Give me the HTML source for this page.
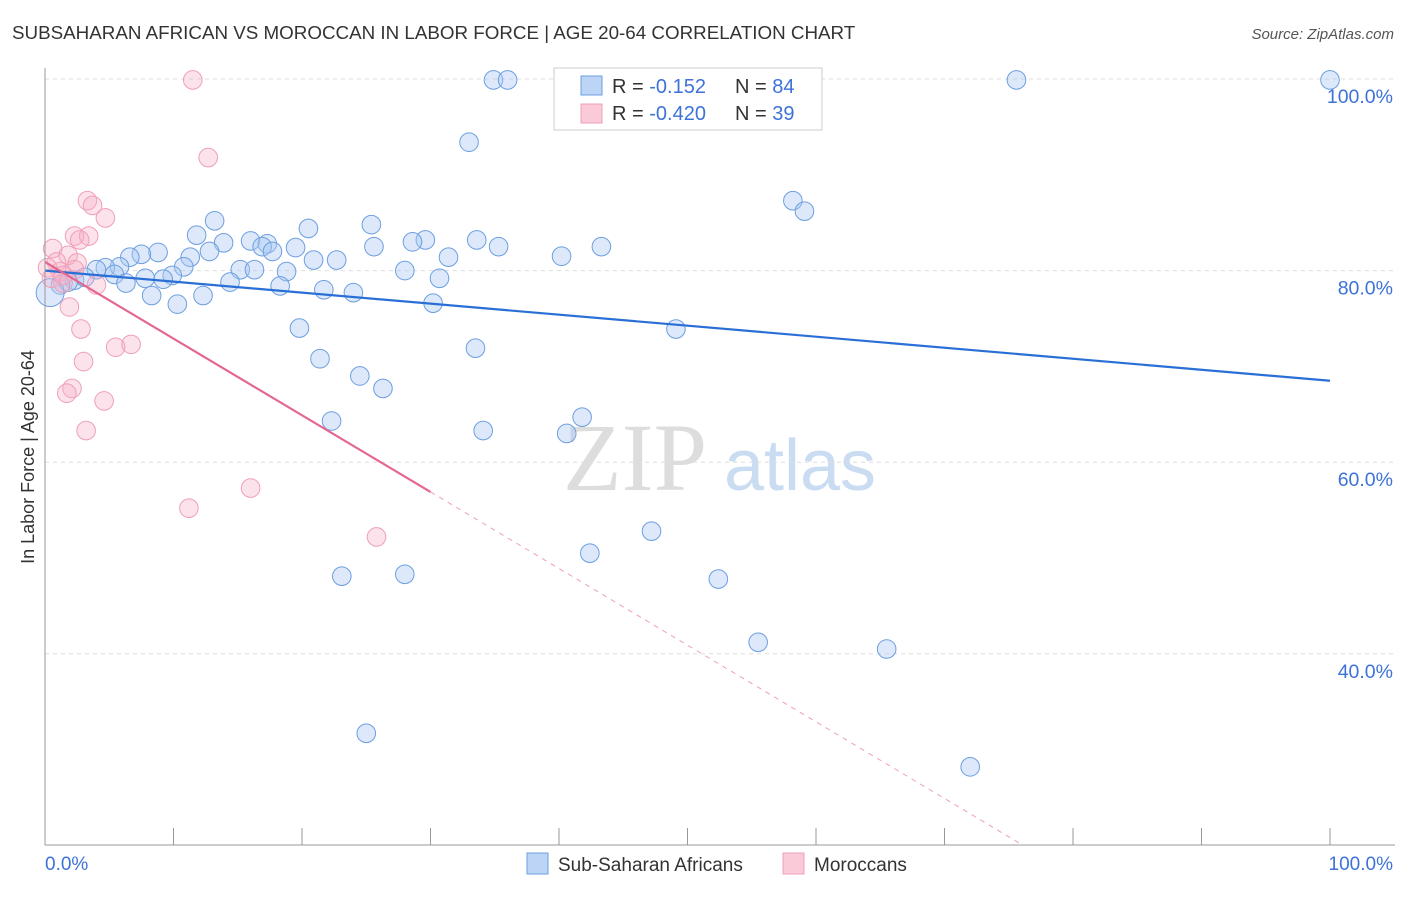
<!DOCTYPE html>
<html><head><meta charset="utf-8"><style>
body{margin:0;background:#fff;font-family:"Liberation Sans",sans-serif}
</style></head><body>
<svg id="c" width="1406" height="892" xmlns="http://www.w3.org/2000/svg">
<text x="12" y="39" font-size="18.8" fill="#333">SUBSAHARAN AFRICAN VS MOROCCAN IN LABOR FORCE | AGE 20-64 CORRELATION CHART</text>
<text x="1394" y="39" font-size="15" fill="#555" text-anchor="end" font-style="italic">Source: ZipAtlas.com</text>
<text x="34" y="457" font-size="18" fill="#333" text-anchor="middle" transform="rotate(-90 34 457)">In Labor Force | Age 20-64</text>
<g><text x="635" y="490" font-size="96" fill="#ddd" text-anchor="middle" font-family="Liberation Serif,serif">ZIP</text><text x="800" y="490" font-size="72" fill="#c9dcf2" text-anchor="middle">atlas</text></g>
<g id="grid"></g><g id="marks"></g><g id="lines"></g>
<line x1="45" y1="68" x2="45" y2="845" stroke="#999"/>
<line x1="45" y1="845" x2="1395" y2="845" stroke="#999"/>
<text x="45" y="870" font-size="19" fill="#3d72d8">0.0%</text>
<text x="1393" y="870" font-size="19" fill="#3d72d8" text-anchor="end">100.0%</text>
<g>
<rect x="554" y="68" width="268" height="62" fill="#fff" stroke="#ccc"/>
<rect x="581" y="76" width="21" height="19" fill="#bcd4f5" stroke="#6d9fe0"/>
<rect x="581" y="104" width="21" height="19" fill="#fbcad8" stroke="#eea0b8"/>
<text x="612" y="93" font-size="20" fill="#333">R = <tspan fill="#3d72d8">-0.152</tspan></text>
<text x="735" y="93" font-size="20" fill="#333">N = <tspan fill="#3d72d8">84</tspan></text>
<text x="612" y="120" font-size="20" fill="#333">R = <tspan fill="#3d72d8">-0.420</tspan></text>
<text x="735" y="120" font-size="20" fill="#333">N = <tspan fill="#3d72d8">39</tspan></text>
</g>
<g><rect x="527" y="853" width="21" height="21" fill="#bcd4f5" stroke="#6d9fe0"/><text x="558" y="871" font-size="19" fill="#333">Sub-Saharan Africans</text></g>
<g><rect x="783" y="853" width="21" height="21" fill="#fbcad8" stroke="#eea0b8"/><text x="814" y="871" font-size="19" fill="#333">Moroccans</text></g>
</svg>
<script>
const yTicks=[100,80,60,40];
const xTicks=[0,10,20,30,40,50,60,70,80,90,100];
const blueX=[34.9,36.0,75.6,100,46.1,33.0,58.2,59.1,13.2,25.4,20.5,11.8,29.6,28.6,33.6,16.0,13.9,17.3,25.6,35.3,43.3,19.5,16.9,17.7,12.8,8.8,7.5,6.6,11.3,40.2,31.4,20.9,22.7,10.8,5.8,4.7,4.0,15.2,16.3,28.0,18.8,5.4,9.9,7.8,9.2,30.7,14.4,6.3,2.3,3.1,1.2,1.8,18.3,21.7,24.0,8.3,12.3,10.3,30.2,19.8,49.1,33.5,21.4,24.5,26.3,41.8,22.3,40.6,34.1,47.2,42.4,23.1,28.0,52.4,55.5,65.5,25.0,72.0];
const blueY=[99.9,99.9,99.9,99.9,100,93.4,87.3,86.2,85.2,84.8,84.4,83.7,83.2,83.0,83.2,83.1,82.9,82.8,82.5,82.5,82.5,82.4,82.5,82.0,82.0,81.9,81.7,81.4,81.4,81.5,81.4,81.1,81.1,80.4,80.4,80.3,80.1,80.1,80.1,80.0,79.9,79.6,79.5,79.2,79.1,79.2,78.8,78.7,79.0,79.3,78.5,78.8,78.4,78.0,77.7,77.4,77.4,76.5,76.6,74.0,73.9,71.9,70.8,69.0,67.7,64.7,64.3,63.0,63.3,52.8,50.5,48.1,48.3,47.8,41.2,40.5,31.7,28.2];
const pinkX=[11.5,12.7,3.3,3.7,4.7,2.3,3.4,2.7,0.6,1.8,0.9,2.5,0.2,1.2,0.5,1.4,4.0,1.9,2.8,3.0,5.5,6.7,2.1,1.7,4.6,3.2,16.0,11.2,25.8,1.4,2.3];
const pinkY=[99.9,91.8,87.3,86.8,85.5,83.6,83.6,83.2,82.3,81.6,80.9,80.8,80.3,79.9,79.2,78.7,78.5,76.2,73.9,70.5,72.0,72.3,67.7,67.2,66.4,63.3,57.3,55.2,52.2,79.5,80.1];
const blueFit=[80.0,68.5];
const pinkFit=[80.9,-0.8,30,75.9];
const X=v=>45+v*12.85, Y=v=>1037-v*9.58;
const NS='http://www.w3.org/2000/svg';
function mk(t,a,p){const e=document.createElementNS(NS,t);for(const k in a)e.setAttribute(k,a[k]);p.appendChild(e);return e;}
const g=document.getElementById('grid'),m=document.getElementById('marks'),l=document.getElementById('lines');
yTicks.forEach(v=>{const ln=mk('line',{x1:45,x2:1395,y1:Y(v),y2:Y(v),stroke:'#ddd','stroke-dasharray':'4 4'},g);


const t=mk('text',{x:1393,y:Y(v)+24,'font-size':19.5,fill:'#3d72d8','text-anchor':'end'},g);t.textContent=v.toFixed(1)+'%';

});
xTicks.forEach(v=>{const ln=mk('line',{x1:X(v),x2:X(v),y1:828,y2:845,stroke:'#999'},g);

});
blueX.forEach((v,i)=>{const c=mk('circle',{cx:X(v),cy:Y(blueY[i]),r:9.3,fill:'rgba(170,200,242,0.4)',stroke:'#6d9fe0','stroke-width':1},m);

});
const big=mk('circle',{cx:X(0.4),cy:Y(77.7),r:14,fill:'rgba(170,200,242,0.4)',stroke:'#6d9fe0'},m);


pinkX.forEach((v,i)=>{const c=mk('circle',{cx:X(v),cy:Y(pinkY[i]),r:9.3,fill:'rgba(245,175,198,0.35)',stroke:'#eea0b8','stroke-width':1},m);

});
const bl=mk('line',{x1:X(0),y1:Y(blueFit[0]),x2:X(100),y2:Y(blueFit[1]),stroke:'#2a6fd6','stroke-width':2.2},l);


const pf=x=>pinkFit[0]+pinkFit[1]*x;
const p1=mk('line',{x1:X(0),y1:Y(pf(0)),x2:X(pinkFit[2]),y2:Y(pf(pinkFit[2])),stroke:'#e5668e','stroke-width':2.2},l);


const p2=mk('line',{x1:X(pinkFit[2]),y1:Y(pf(pinkFit[2])),x2:X(pinkFit[3]),y2:Y(pf(pinkFit[3])),stroke:'#eea0b8','stroke-width':1,'stroke-dasharray':'5 5'},l);


</script>
</body></html>
